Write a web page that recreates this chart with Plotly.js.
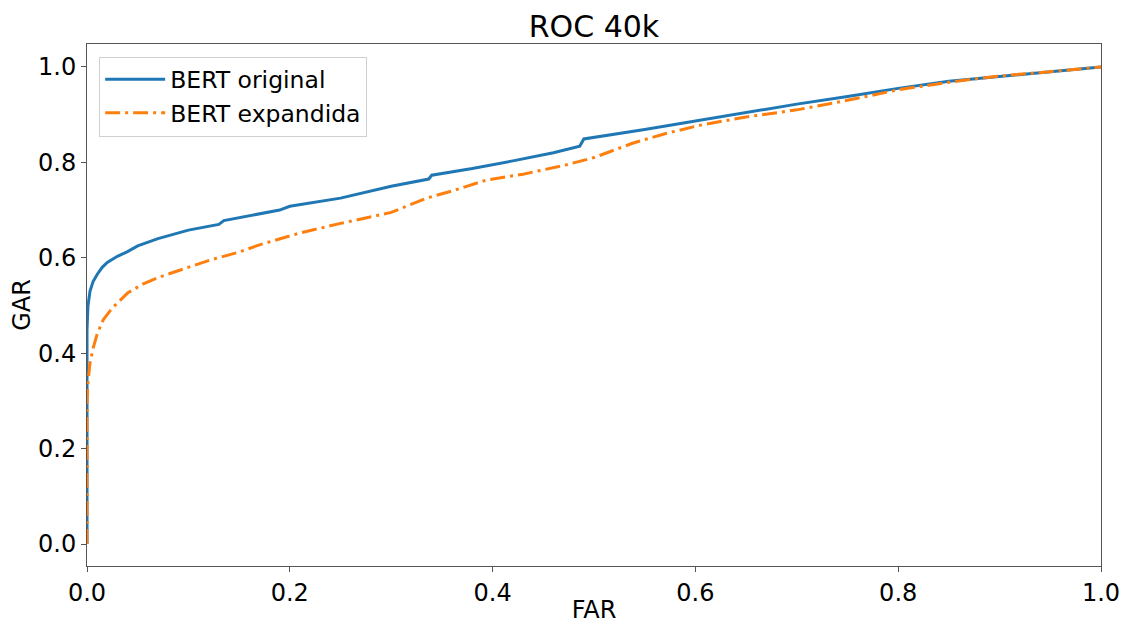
<!DOCTYPE html>
<html><head><meta charset="utf-8">
<script src="https://cdn.plot.ly/plotly-3.0.1.min.js"></script>
<style>html,body{margin:0;padding:0;background:#fff}#chart{width:1129px;height:624px}</style>
</head><body><div id="chart"></div>
<script>
const blueName = "BERT original";
const blueFAR = [0, 0, 0.001, 0.003, 0.006, 0.01, 0.015, 0.02, 0.03, 0.04, 0.05, 0.07, 0.1, 0.13, 0.135, 0.17, 0.19, 0.2, 0.25, 0.3, 0.337, 0.34, 0.38, 0.42, 0.46, 0.486, 0.49, 0.55, 0.6, 0.65, 0.7, 0.75, 0.8, 0.85, 0.9, 0.95, 1.0];
const blueGAR = [0, 0.45, 0.5, 0.53, 0.55, 0.565, 0.58, 0.59, 0.603, 0.613, 0.625, 0.64, 0.658, 0.67, 0.678, 0.692, 0.7, 0.708, 0.725, 0.75, 0.765, 0.773, 0.787, 0.803, 0.82, 0.834, 0.849, 0.869, 0.887, 0.905, 0.922, 0.938, 0.955, 0.97, 0.98, 0.99, 1.0];
const orangeName = "BERT expandida";
const orangeFAR = [0, 0, 0.001, 0.003, 0.006, 0.01, 0.016, 0.025, 0.04, 0.055, 0.072, 0.1, 0.121, 0.15, 0.17, 0.21, 0.25, 0.3, 0.335, 0.36, 0.394, 0.43, 0.473, 0.5, 0.538, 0.57, 0.605, 0.65, 0.7, 0.75, 0.8, 0.85, 0.9, 0.95, 1.0];
const orangeGAR = [0, 0.3, 0.34, 0.38, 0.41, 0.44, 0.47, 0.495, 0.526, 0.545, 0.56, 0.58, 0.595, 0.612, 0.627, 0.652, 0.672, 0.695, 0.725, 0.74, 0.763, 0.775, 0.795, 0.81, 0.84, 0.86, 0.878, 0.895, 0.91, 0.93, 0.952, 0.968, 0.981, 0.99, 1.0];
const xTicks = [0, 0.2, 0.4, 0.6, 0.8, 1.0];
const xTickText = ["0.0", "0.2", "0.4", "0.6", "0.8", "1.0"];
const yTicks = [0, 0.2, 0.4, 0.6, 0.8, 1.0];
const yTickText = ["0.0", "0.2", "0.4", "0.6", "0.8", "1.0"];

const font = "DejaVu Sans, sans-serif";
const traces = [
  {x: blueFAR, y: blueGAR, name: blueName, mode: "lines", line: {color: "#1f77b4", width: 3}},
  {x: orangeFAR, y: orangeGAR, name: orangeName, mode: "lines", line: {color: "#ff7f0e", width: 3, dash: "15px,5px,3px,5px"}}
];
const axisCommon = {
  showgrid: false, zeroline: false, showline: true, mirror: true,
  linecolor: "#555", linewidth: 1, ticks: "outside", ticklen: 5, tickcolor: "#555",
  tickfont: {family: font, size: 24, color: "#000"}
};
const layout = {
  width: 1129, height: 624,
  margin: {l: 87, r: 28, t: 44, b: 58},
  paper_bgcolor: "#fff", plot_bgcolor: "#fff",
  title: {text: "ROC 40k", font: {family: font, size: 30, color: "#000"}, x: 0.5, xanchor: "center", y: 0.957, yanchor: "middle", xref: "paper"},
  xaxis: Object.assign({}, axisCommon, {range: [0, 1], tickvals: xTicks, ticktext: xTickText,
    title: {text: "FAR", font: {family: font, size: 24, color: "#000"}, standoff: 0}}),
  yaxis: Object.assign({}, axisCommon, {range: [-0.046, 1.048], tickvals: yTicks, ticktext: yTickText,
    title: {text: "GAR", font: {family: font, size: 24, color: "#000"}, standoff: 0}}),
  showlegend: true,
  legend: {x: 0.012, y: 0.976, xanchor: "left", yanchor: "top", bgcolor: "rgba(255,255,255,0.8)",
    bordercolor: "#d0d0d0", borderwidth: 1, font: {family: font, size: 23.5, color: "#000"}, itemwidth: 60}
};
Plotly.newPlot("chart", traces, layout, {displayModeBar: false, staticPlot: true});
</script></body></html>
